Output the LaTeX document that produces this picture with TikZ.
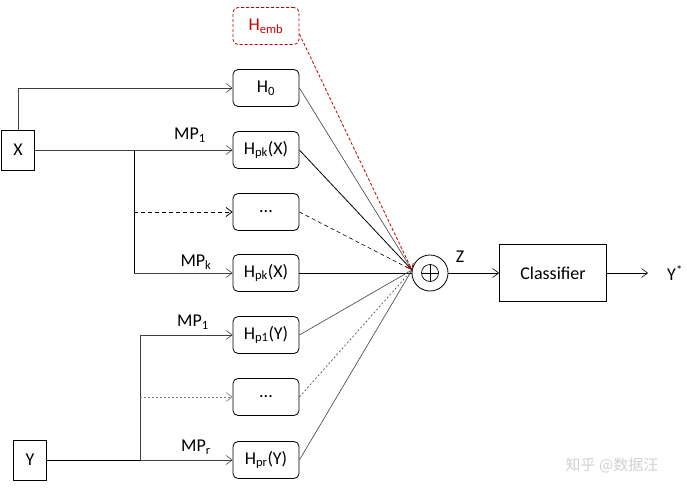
\documentclass[tikz,border=0pt]{standalone}
\usepackage{fontspec}
\setmainfont{Carlito}
\newfontfamily\cjk{Noto Sans CJK SC}
\usetikzlibrary{arrows.meta}
\begin{document}
\begin{tikzpicture}[x=1pt,y=-1pt,
  font=\fontsize{18}{21}\selectfont,
  hbox/.style={draw, rounded corners=5pt, minimum width=66pt, minimum height=37pt, inner sep=0pt, line width=0.8pt},
  sqbox/.style={draw, minimum width=33pt, minimum height=40pt, inner sep=0pt, line width=0.8pt},
  arr/.style={-{Straight Barb[length=6pt,width=9pt]}, line width=0.6pt, draw=black!75},
  conn/.style={line width=0.6pt, draw=black!75},
  lbl/.style={inner sep=1pt}
]
\useasboundingbox (0,0) rectangle (687,500);

\node[sqbox] (X) at (18,150) {X};
\node[sqbox] (Y) at (30,460) {Y};

\node[hbox, dash pattern=on 3pt off 2pt, draw=red!75!black, text=red!80!black] (Hemb) at (266,26) {H\textsubscript{emb}};
\node[hbox] (H0) at (266,88) {H\textsubscript{0}};
\node[hbox] (Hx1) at (266,150) {H\textsubscript{pk}(X)};
\node[hbox] (Hxd) at (266,212) {...};
\node[hbox] (Hxk) at (266,273) {H\textsubscript{pk}(X)};
\node[hbox] (Hy1) at (266,335) {H\textsubscript{p1}(Y)};
\node[hbox] (Hyd) at (266,397) {...};
\node[hbox] (Hyr) at (266,460) {H\textsubscript{pr}(Y)};

\node[circle, draw, minimum size=36pt, inner sep=0pt, line width=0.8pt] (S) at (430,273) {};
\draw[line width=0.7pt] (S.center) circle (8.5pt);
\draw[line width=0.7pt] ([xshift=-8.5pt]S.center) -- ([xshift=8.5pt]S.center)
  ([yshift=-8.5pt]S.center) -- ([yshift=8.5pt]S.center);
\node[lbl] (Z) at (460,257) {Z};

\node[draw, minimum width=107pt, minimum height=57pt, line width=0.8pt] (C) at (553,273) {Classifier};
\node[lbl] (Ys) at (675,273) {Y\textsuperscript{*}};

% X branches
\coordinate (bx1) at (134,150);
\coordinate (bxd) at (134,212);
\coordinate (bxk) at (134,273);
\draw[arr] (X.north) |- (H0.west);
\draw[arr] (X.east) -- (Hx1.west);
\draw[conn, draw=black] (bx1) -- (bxk);
\draw[arr, dash pattern=on 4pt off 3pt, draw=black, line width=0.8pt] (bxd) -- (Hxd.west);
\draw[arr] (bxk) -- (Hxk.west);
\node[lbl] (mpx1) at (190,135) {MP\textsubscript{1}};
\node[lbl] (mpxk) at (196,262) {MP\textsubscript{k}};

% Y branches
\coordinate (by1) at (140,335);
\coordinate (byd) at (140,397);
\coordinate (byr) at (140,460);
\draw[conn, draw=black, line width=0.8pt] (Y.east) -- (byr);
\draw[conn] (byr) -- (by1);
\draw[arr] (by1) -- (Hy1.west);
\draw[arr, dash pattern=on 2pt off 2pt, draw=black!55] (byd) -- (Hyd.west);
\draw[arr] (byr) -- (Hyr.west);
\node[lbl] (mpy1) at (193,322) {MP\textsubscript{1}};
\node[lbl] (mpyr) at (196,447) {MP\textsubscript{r}};

% to sum
\coordinate (J) at (412,270);
\draw[conn] (H0.east) -- (J);
\draw[conn, line width=0.8pt, draw=black] (Hx1.east) -- (J);
\draw[conn, dash pattern=on 4pt off 3pt, draw=black] (Hxd.east) -- (J);
\draw[conn, line width=0.9pt, draw=black] (Hxk.east) -- (S.west);
\draw[conn] (Hy1.east) -- (J);
\draw[conn, dash pattern=on 2pt off 2pt] (Hyd.east) -- (J);
\draw[conn] (Hyr.east) -- (J);
\draw[-{Straight Barb[length=5pt,width=8pt]}, dash pattern=on 3pt off 2pt, draw=red!75!black, line width=0.8pt] ([yshift=-8pt]Hemb.east) -- (J);

\draw[arr, draw=black] (S.east) -- (C.west);
\draw[arr, draw=black] (C.east) -- (648,273);

\node[text=black!18, font=\cjk\fontsize{15}{18}\selectfont] (wm) at (612,465) {知乎 @数据汪};
\end{tikzpicture}
\end{document}
